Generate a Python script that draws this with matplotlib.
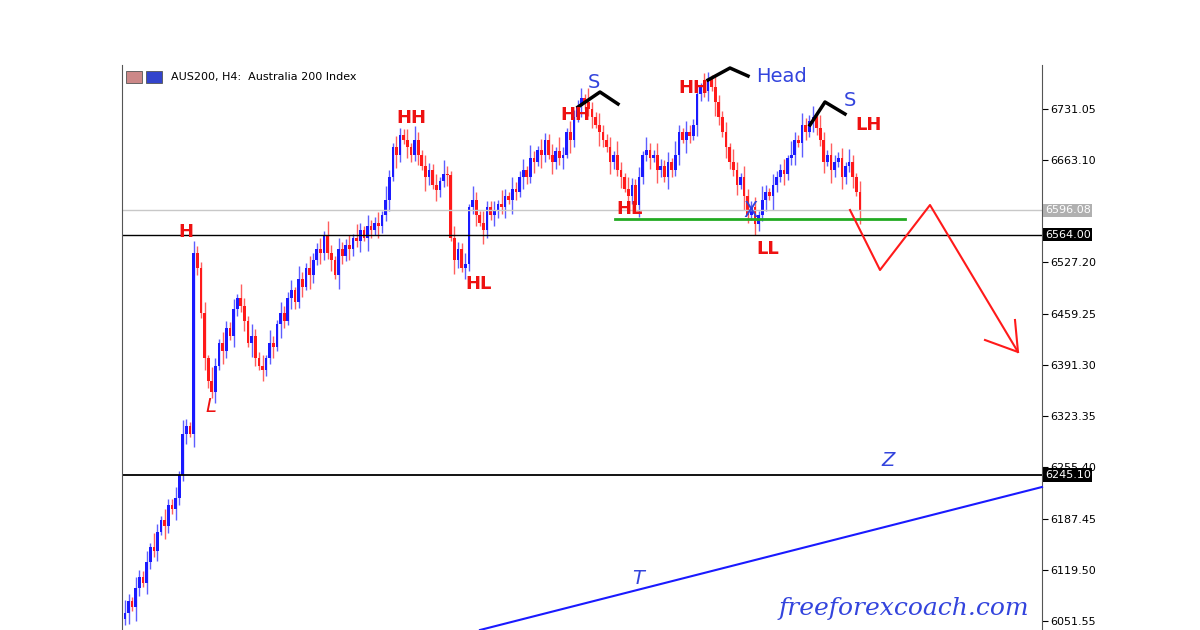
import matplotlib
matplotlib.use("Agg")
import matplotlib.pyplot as plt
import numpy as np

closes = [6062,6078,6070,6095,6110,6102,6130,6150,6145,6170,6185,6178,6205,6200,6215,
          6245,6300,6310,6300,6540,6520,6460,6400,6370,6355,
          6390,6420,6410,6440,6430,6465,6480,6470,
          6450,6420,6430,6400,6390,6385,
          6400,6420,6415,6445,6460,6450,6480,6490,6475,6505,6495,6520,6510,6530,6545,6540,6564,
          6540,6530,6510,6545,6535,6550,6545,6560,6555,6570,6560,6575,6570,6580,6575,6590,
          6610,6640,6680,6670,6696,6690,
          6680,6670,6690,6670,6655,6640,6650,6630,6623,
          6635,6645,6643,6560,6530,6545,6520,6525,
          6600,6610,6590,6580,6570,6600,6590,
          6595,6605,6600,6615,6610,6625,6620,6640,6650,6640,6665,6660,6676,6670,
          6690,6670,6660,6675,6665,6670,6700,6690,6720,6735,6745,6740,6730,6720,
          6710,6700,6690,6680,6660,6670,6650,6640,6625,6615,6630,6603,
          6640,6670,6676,6665,6670,6650,6655,6640,6660,6650,6670,6700,6690,6700,6695,6710,
          6750,6760,6755,6770,6760,6740,6720,6700,6680,6660,6650,6630,6640,6615,6590,6600,6578,6590,6610,
          6620,6615,6630,6640,6650,6645,6665,6670,6690,6685,6710,6700,6715,6720,6705,6690,6660,6670,
          6650,6660,6665,6640,6655,6660,6640,6620,6596]
wicks = [8, 14, 5, 18, 10, 6, 15, 9]
yticks = [6731.05, 6663.10, 6527.20, 6459.25, 6391.30, 6323.35, 6255.40, 6187.45, 6119.50, 6051.55]
levels = [6564.00, 6596.08, 6245.10]

W, H = 1200, 630
fig = plt.figure(figsize=(W/100, H/100), dpi=100)
L, R, T, B = 122, 1042, 65, 630
ax = fig.add_axes([L/W, 1-B/H, (R-L)/W, (B-T)/H])
n = len(closes)
x0 = -0.8
xmax = x0 + (n-1 - x0)/((860-L)/(R-L))
ax.set_xlim(x0, xmax)
ax.set_ylim(6039.6, 6789)
opens = [closes[0]-8] + closes[:-1]
for i, (o, c) in enumerate(zip(opens, closes)):
    col = "#1a1aff" if c >= o else "#ff1a1a"
    lo, hi = min(o, c), max(o, c)
    ax.vlines(i, lo-wicks[i % len(wicks)], hi+wicks[(i+3) % len(wicks)], color=col, lw=1, alpha=0.7)
    ax.bar(i, max(hi-lo, 1.5), bottom=lo, width=0.75, color=col, lw=0)

ax.axhline(levels[0], color="black", lw=1)
ax.axhline(levels[1], color="#c8c8c8", lw=1)
ax.axhline(levels[2], color="black", lw=1.3)

ax.yaxis.tick_right()
ax.set_yticks(yticks)
ax.set_yticklabels([f"{v:.2f}" for v in yticks], fontsize=8)
ax.tick_params(axis="y", length=4, width=0.8, pad=2)
ax.set_xticks([])
for s in ["top", "bottom"]:
    ax.spines[s].set_visible(False)
ax.spines["left"].set_color("#555")
ax.spines["right"].set_color("#555")
tf = ax.get_yaxis_transform()
for v, fc in [(levels[1], "#b0b0b0"), (levels[0], "black"), (levels[2], "black")]:
    ax.text(1.003, v, f"{v:.2f}", transform=tf, fontsize=8, color="white", va="center", ha="left",
            bbox=dict(boxstyle="square,pad=0.15", fc=fc, ec="none"), zorder=10)

def P(x, y):
    return (x/W, 1-y/H)
def line(pts, **kw):
    xs = [p[0]/W for p in pts]; ys = [1-p[1]/H for p in pts]
    fig.add_artist(plt.Line2D(xs, ys, transform=fig.transFigure, **kw))
def txt(x, y, s, **kw):
    fig.text(x/W, 1-y/H, s, ha="center", va="center", **kw)

line([(615, 219), (905, 219)], color="#22aa22", lw=2)
line([(480, 630), (1042, 487)], color="#1a1aff", lw=1.5)
line([(850, 210), (880, 270), (930, 205), (1018, 352)], color="#ff1a1a", lw=1.5)
line([(985, 340), (1018, 352), (1015, 320)], color="#ff1a1a", lw=1.5)
line([(578, 107), (600, 92), (618, 104)], color="black", lw=2.5)
line([(708, 80), (730, 68), (748, 76)], color="black", lw=2.5)
line([(810, 125), (825, 102), (845, 114)], color="black", lw=2.5)

red = "#ee1111"; blue = "#3344dd"
for (x, y, s) in [(186, 232, "H"), (411, 118, "HH"), (479, 284, "HL"), (575, 115, "HH"),
                  (630, 209, "HL"), (693, 88, "HH"), (768, 249, "LL"), (869, 125, "LH")]:
    txt(x, y, s, color=red, fontsize=13, fontweight="bold")
txt(211, 407, "L", color=red, fontsize=14, style="italic")
for (x, y, s, fs) in [(594, 83, "S", 14), (782, 77, "Head", 14), (850, 100, "S", 14), (750, 211, "X", 15)]:
    txt(x, y, s, color=blue, fontsize=fs)
txt(888, 461, "Z", color=blue, fontsize=14, style="italic")
txt(638, 579, "T", color=blue, fontsize=14, style="italic")
txt(904, 609, "freeforexcoach.com", color=blue, fontsize=18, style="italic", family="DejaVu Serif")

fig.text(171/W, 1-77/H, "AUS200, H4:  Australia 200 Index", fontsize=8, va="center", ha="left")
for (x, c) in [(126, "#cc8888"), (146, "#3344cc")]:
    fig.add_artist(plt.Rectangle(P(x, 83), 16/W, 12/H, transform=fig.transFigure, fc=c, ec="#555", lw=0.6))

fig.savefig("out.png", dpi=100)
